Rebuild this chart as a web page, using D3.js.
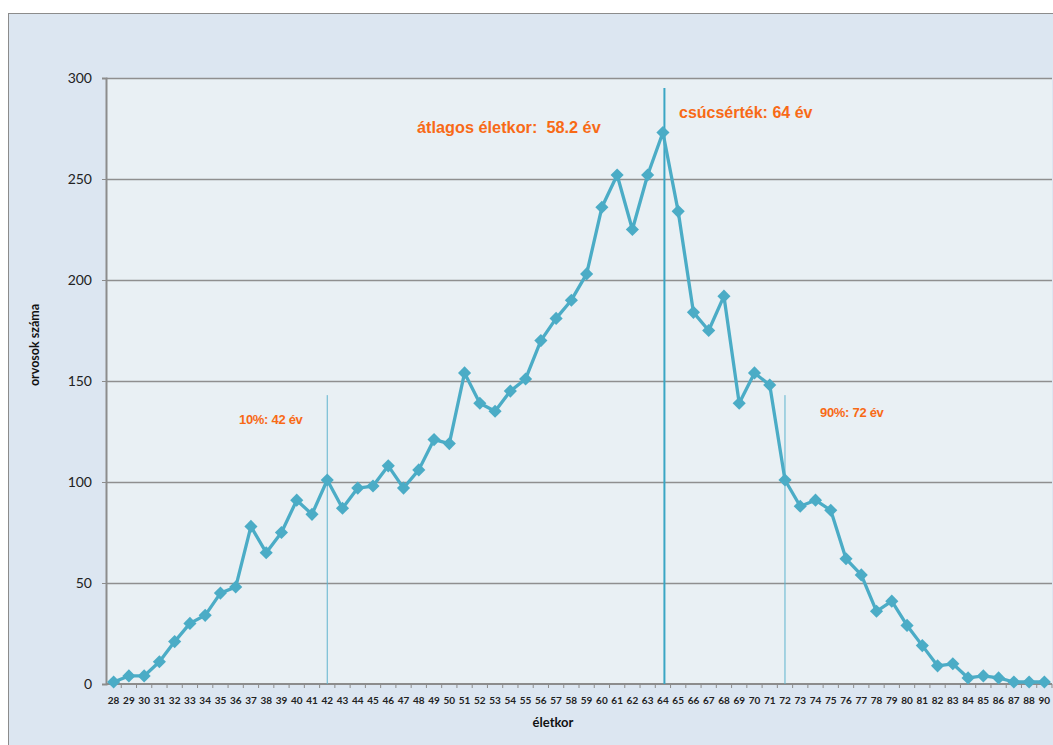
<!DOCTYPE html>
<html>
<head>
<meta charset="utf-8">
<script src="https://cdn.jsdelivr.net/npm/d3@7"></script>
<style>
  body { margin: 0; background: #fff; }
  text { font-family: Lato, "Liberation Sans", sans-serif; }
  text.note { font-family: "Liberation Sans", Arial, sans-serif; }
</style>
</head>
<body>
<div id="chart"></div>
<script>
// életkor (age) categories - note 89 is missing in the source
const ages = [28, 29, 30, 31, 32, 33, 34, 35, 36, 37, 38, 39, 40, 41, 42, 43, 44, 45, 46, 47,
  48, 49, 50, 51, 52, 53, 54, 55, 56, 57, 58, 59, 60, 61, 62, 63, 64, 65, 66, 67,
  68, 69, 70, 71, 72, 73, 74, 75, 76, 77, 78, 79, 80, 81, 82, 83, 84, 85, 86, 87, 88, 90];
// orvosok száma (number of doctors)
const counts = [1, 4, 4, 11, 21, 30, 34, 45, 48, 78, 65, 75, 91, 84, 101, 87, 97, 98, 108, 97,
  106, 121, 119, 154, 139, 135, 145, 151, 170, 181, 190, 203, 236, 252, 225, 252, 273, 234, 184, 175,
  192, 139, 154, 148, 101, 88, 91, 86, 62, 54, 36, 41, 29, 19, 9, 10, 3, 4, 3, 1, 1, 1];
const yTicks = [0, 50, 100, 150, 200, 250, 300];

// marker lines: 10%, peak, 90%
const markers = [
  { age: 42, top: 143, label: "10%: 42 év" },
  { age: 64, top: 295, label: "csúcsérték: 64 év" },
  { age: 72, top: 143, label: "90%: 72 év" }
];

const width = 1053, height = 745;
const margin = { top: 78, right: 1, bottom: 61, left: 106 };

const svg = d3.select("#chart")
  .append("svg")
  .attr("width", width)
  .attr("height", height);

// outer chart area (frame runs off the right / bottom edge)
svg.append("rect")
  .attr("x", 8.5).attr("y", 13.5)
  .attr("width", 1060).attr("height", 760)
  .attr("fill", "#dce6f1")
  .attr("stroke", "#8c8c8c")
  .attr("stroke-width", 1);

const x = d3.scaleBand()
  .domain(ages.map(String))
  .range([margin.left, width - margin.right])
  .padding(0);

const y = d3.scaleLinear()
  .domain([0, 300])
  .range([height - margin.bottom, margin.top]);

// plot area
svg.append("rect")
  .attr("x", margin.left).attr("y", margin.top)
  .attr("width", width - margin.right - margin.left)
  .attr("height", y(0) - y(300))
  .attr("fill", "#e9f0f4");

// gridlines
svg.append("g")
  .selectAll("line")
  .data(yTicks.filter(d => d > 0))
  .join("line")
  .attr("x1", margin.left).attr("x2", width - margin.right)
  .attr("y1", d => Math.round(y(d)) + 0.5).attr("y2", d => Math.round(y(d)) + 0.5)
  .attr("stroke", "#8f8f8f")
  .attr("stroke-width", 1.3);

// y axis
const yAxis = svg.append("g")
  .attr("transform", `translate(${margin.left},0)`)
  .call(d3.axisLeft(y).tickValues(yTicks).tickSize(4).tickPadding(10));
yAxis.select(".domain").attr("stroke", "#8c8c8c").attr("stroke-width", 2);
yAxis.selectAll(".tick line").attr("stroke", "#8c8c8c");
yAxis.selectAll(".tick text")
  .attr("font-size", 14)
  .attr("fill", "#222");

// x axis: ticks between categories, labels centred on bands
const xAxisG = svg.append("g")
  .attr("transform", `translate(0,${y(0)})`);
xAxisG.append("line")
  .attr("x1", margin.left).attr("x2", width - margin.right)
  .attr("stroke", "#8c8c8c").attr("stroke-width", 2);
xAxisG.selectAll(".sep")
  .data(ages.map(String))
  .join("line")
  .attr("class", "sep")
  .attr("x1", d => x(d) + x.bandwidth())
  .attr("x2", d => x(d) + x.bandwidth())
  .attr("y1", 0).attr("y2", 4)
  .attr("stroke", "#8c8c8c");
xAxisG.selectAll(".lbl")
  .data(ages.map(String))
  .join("text")
  .attr("class", "lbl")
  .attr("x", d => x(d) + x.bandwidth() / 2)
  .attr("y", 20)
  .attr("text-anchor", "middle")
  .attr("font-size", 10)
  .attr("font-weight", "bold")
  .attr("fill", "#222")
  .text(d => d);

// axis titles
svg.append("text")
  .attr("x", 553).attr("y", 727)
  .attr("text-anchor", "middle")
  .attr("font-size", 13)
  .attr("font-weight", "bold")
  .attr("fill", "#111")
  .text("életkor");

svg.append("text")
  .attr("transform", "translate(39,345) rotate(-90)")
  .attr("text-anchor", "middle")
  .attr("font-size", 12.5)
  .attr("font-weight", "bold")
  .attr("fill", "#111")
  .text("orvosok száma");

// vertical marker lines
svg.append("g")
  .selectAll("line")
  .data(markers)
  .join("line")
  .attr("x1", d => x(String(d.age)) + x.bandwidth() / 2 + (d.age === 64 ? 1.5 : 0))
  .attr("x2", d => x(String(d.age)) + x.bandwidth() / 2 + (d.age === 64 ? 1.5 : 0))
  .attr("y1", y(0))
  .attr("y2", d => y(d.top))
  .attr("stroke", d => d.age === 64 ? "#3aa6c4" : "#5fb4cf")
  .attr("stroke-width", d => d.age === 64 ? 2 : 1);

// data line
const line = d3.line()
  .x((d, i) => x(String(ages[i])) + x.bandwidth() / 2)
  .y(d => y(d));

svg.append("path")
  .datum(counts)
  .attr("d", line)
  .attr("fill", "none")
  .attr("stroke", "#4bacc6")
  .attr("stroke-width", 3.3)
  .attr("stroke-linejoin", "round");

// diamond markers
const diamond = d3.symbol().type(d3.symbolDiamond2).size(110);
svg.append("g")
  .selectAll("path")
  .data(counts)
  .join("path")
  .attr("d", diamond)
  .attr("transform", (d, i) => `translate(${x(String(ages[i])) + x.bandwidth() / 2},${y(d)})`)
  .attr("fill", "#4bacc6");

// annotations
const orange = "#f86a16";
svg.append("text")
  .attr("class", "note")
  .attr("x", 417).attr("y", 133)
  .attr("font-size", 16.3)
  .attr("font-weight", "bold")
  .attr("fill", orange)
  .attr("xml:space", "preserve")
  .text("átlagos életkor:  58.2 év");

svg.append("text")
  .attr("class", "note")
  .attr("x", 679).attr("y", 118)
  .attr("font-size", 16)
  .attr("font-weight", "bold")
  .attr("fill", orange)
  .text(markers[1].label);

svg.append("text")
  .attr("class", "note")
  .attr("x", 239).attr("y", 424)
  .attr("font-size", 13)
  .attr("font-weight", "bold")
  .attr("letter-spacing", -0.3)
  .attr("fill", orange)
  .text(markers[0].label);

svg.append("text")
  .attr("class", "note")
  .attr("x", 820).attr("y", 417)
  .attr("font-size", 13)
  .attr("font-weight", "bold")
  .attr("letter-spacing", -0.3)
  .attr("fill", orange)
  .text(markers[2].label);
</script>
</body>
</html>
